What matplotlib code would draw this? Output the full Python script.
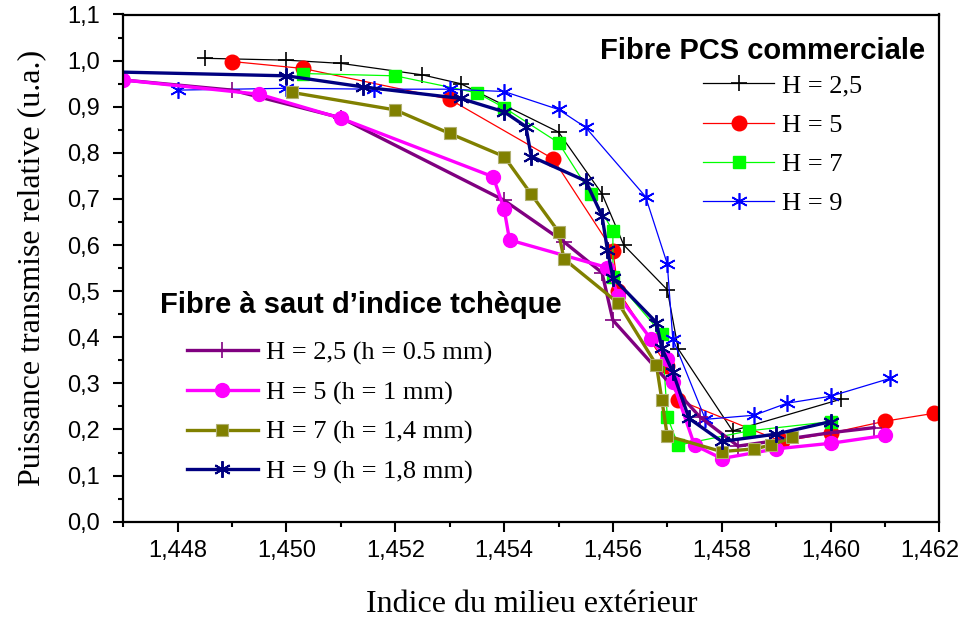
import matplotlib
matplotlib.use("Agg")
import matplotlib.pyplot as plt
from matplotlib.ticker import MultipleLocator, FuncFormatter
from matplotlib.transforms import ScaledTranslation

# ---------------- data ----------------
pcs25_x = [1.4485, 1.4500, 1.4510, 1.4525, 1.4532, 1.4550, 1.4558, 1.4562, 1.4570, 1.4572, 1.4582, 1.4602]
pcs25_y = [1.005, 1.001, 0.994, 0.969, 0.950, 0.845, 0.711, 0.600, 0.503, 0.375, 0.197, 0.266]

pcs5_x = [1.4490, 1.4503, 1.4530, 1.4549, 1.4560, 1.4561, 1.4570, 1.4572, 1.4591, 1.4600, 1.4610, 1.4619]
pcs5_y = [0.998, 0.983, 0.916, 0.787, 0.588, 0.500, 0.337, 0.264, 0.174, 0.192, 0.218, 0.235]

pcs7_x = [1.4503, 1.4520, 1.4535, 1.4540, 1.4550, 1.4556, 1.4560, 1.4560, 1.4569, 1.4570, 1.4572, 1.4585, 1.4600]
pcs7_y = [0.972, 0.967, 0.930, 0.898, 0.822, 0.711, 0.631, 0.531, 0.407, 0.228, 0.166, 0.197, 0.217]

pcs9_x = [1.4480, 1.4500, 1.4516, 1.4530, 1.4540, 1.4550, 1.4555, 1.4566, 1.4570, 1.4571, 1.4577, 1.4586, 1.4592, 1.4600, 1.4611]
pcs9_y = [0.936, 0.940, 0.938, 0.938, 0.933, 0.894, 0.855, 0.705, 0.559, 0.397, 0.222, 0.231, 0.257, 0.272, 0.311]

cz25_x = [1.4470, 1.4490, 1.4510, 1.4540, 1.4551, 1.4558, 1.4560, 1.4576, 1.4583, 1.4600, 1.4608]
cz25_y = [0.958, 0.936, 0.876, 0.697, 0.607, 0.540, 0.437, 0.227, 0.164, 0.193, 0.204]

cz5_x = [1.4470, 1.4495, 1.4510, 1.4538, 1.4540, 1.4541, 1.4559, 1.4561, 1.4567, 1.4570, 1.4571, 1.4575, 1.4580, 1.4590, 1.4600, 1.4610]
cz5_y = [0.958, 0.927, 0.875, 0.748, 0.678, 0.611, 0.551, 0.490, 0.396, 0.352, 0.304, 0.166, 0.137, 0.158, 0.170, 0.187]

cz7_x = [1.4501, 1.4520, 1.4530, 1.4540, 1.4545, 1.4550, 1.4551, 1.4561, 1.4568, 1.4569, 1.4570, 1.4580, 1.4586, 1.4589, 1.4593]
cz7_y = [0.931, 0.893, 0.842, 0.792, 0.710, 0.629, 0.570, 0.474, 0.340, 0.264, 0.186, 0.152, 0.158, 0.166, 0.183]

cz9_x = [1.4470, 1.4500, 1.4514, 1.4532, 1.4540, 1.4544, 1.4545, 1.4555, 1.4558, 1.4559, 1.4560, 1.4568, 1.4569, 1.4571, 1.4574, 1.4580, 1.4590, 1.4600]
cz9_y = [0.975, 0.967, 0.943, 0.918, 0.889, 0.857, 0.792, 0.739, 0.663, 0.589, 0.529, 0.432, 0.376, 0.325, 0.224, 0.174, 0.190, 0.217]

x_ticks = [1.448, 1.450, 1.452, 1.454, 1.456, 1.458, 1.460, 1.462]
pcs_labels = ["H = 2,5", "H = 5", "H = 7", "H = 9"]
cz_labels = ["H = 2,5 (h = 0.5 mm)", "H = 5 (h = 1 mm)", "H = 7 (h = 1,4 mm)", "H = 9 (h = 1,8 mm)"]
pcs_title = "Fibre PCS commerciale"
cz_title = "Fibre à saut d\u2019indice tchèque"
x_label = "Indice du milieu extérieur"
y_label = "Puissance transmise relative (u.a.)"

# ---------------- figure ----------------
W, H = 965, 619
fig = plt.figure(figsize=(W / 100, H / 100), dpi=100)
ax = fig.add_axes([123.3 / W, 1 - 521.7 / H, (939.3 - 123.3) / W, (521.7 - 14.5) / H])

serif = ["Liberation Serif", "DejaVu Serif"]
sans = ["Liberation Sans", "DejaVu Sans"]
ASTER = (6, 2, 0)

pcs_lines = []
pcs_lines += ax.plot(pcs25_x, pcs25_y, color="black", lw=0.9, marker="+", ms=11, mew=1.2)
pcs_lines += ax.plot(pcs5_x, pcs5_y, color="#ff0000", lw=0.9, marker="o", ms=10.5, mec="#ff0000", mfc="#ff0000")
pcs_lines += ax.plot(pcs7_x, pcs7_y, color="#00ff00", lw=0.9, marker="s", ms=9, mec="#00ff00", mfc="#00ff00")
pcs_lines += ax.plot(pcs9_x, pcs9_y, color="#0000ff", lw=0.9, marker=ASTER, ms=12, mew=1.2)

cz_lines = []
cz_lines += ax.plot(cz25_x, cz25_y, color="#800080", lw=2.4, marker="+", ms=11, mew=1.2)
cz_lines += ax.plot(cz5_x, cz5_y, color="#ff00ff", lw=2.4, marker="o", ms=10, mec="#ff00ff", mfc="#ff00ff")
cz_lines += ax.plot(cz7_x, cz7_y, color="#808000", lw=2.4, marker="s", ms=9, mec="#b0b070", mfc="#808000", mew=0.8)
cz_lines += ax.plot(cz9_x, cz9_y, color="#000080", lw=2.4, marker=ASTER, ms=12, mew=1.4,
                    markevery=list(range(1, len(cz9_x))))

ax.set_xlim(1.447, 1.462)
ax.set_ylim(0.0, 1.1)
ax.xaxis.set_minor_locator(MultipleLocator(0.001))
ax.yaxis.set_major_locator(MultipleLocator(0.1))
ax.yaxis.set_minor_locator(MultipleLocator(0.05))
ax.set_xticks(x_ticks)
ax.xaxis.set_major_formatter(FuncFormatter(lambda v, p: f"{v:.3f}".replace(".", ",")))
ax.yaxis.set_major_formatter(FuncFormatter(lambda v, p: f"{v:.1f}".replace(".", ",")))

for s in ax.spines.values():
    s.set_linewidth(1.6)
ax.tick_params(axis="both", which="major", direction="out", length=7, width=1.5, labelsize=17)
ax.tick_params(axis="both", which="minor", direction="out", length=3.5, width=1.5)
ax.tick_params(axis="x", which="major", pad=6)
ax.tick_params(axis="y", which="major", pad=10)
for lab in ax.get_xticklabels() + ax.get_yticklabels():
    lab.set_family(sans)

ax.set_xlabel(x_label, family=serif, fontsize=23, labelpad=20)
ax.set_ylabel(y_label, family=serif, fontsize=23, labelpad=15)

fig.canvas.draw()
xl = ax.get_xticklabels()
xl[-1].set_transform(xl[-1].get_transform() + ScaledTranslation(-0.09, 0, fig.dpi_scale_trans))

leg_kw = dict(frameon=False, prop={"family": serif, "size": 19}, handlelength=2.7,
              handletextpad=0.3, labelspacing=0.6, borderpad=0, borderaxespad=0,
              loc="upper left", bbox_transform=fig.transFigure)
leg1 = ax.legend(pcs_lines, pcs_labels, bbox_to_anchor=(703 / W, 1 - 74 / H), **leg_kw)
ax.add_artist(leg1)
leg2 = ax.legend(cz_lines, cz_labels, bbox_to_anchor=(186.7 / W, 1 - 341 / H), **leg_kw)

fig.text(600 / W, 1 - 51 / H, pcs_title, family=sans, fontsize=21, fontweight="bold",
         ha="left", va="center")
fig.text(160 / W, 1 - 305 / H, cz_title, family=sans, fontsize=21, fontweight="bold",
         ha="left", va="center")

fig.savefig("out.png", dpi=100)
